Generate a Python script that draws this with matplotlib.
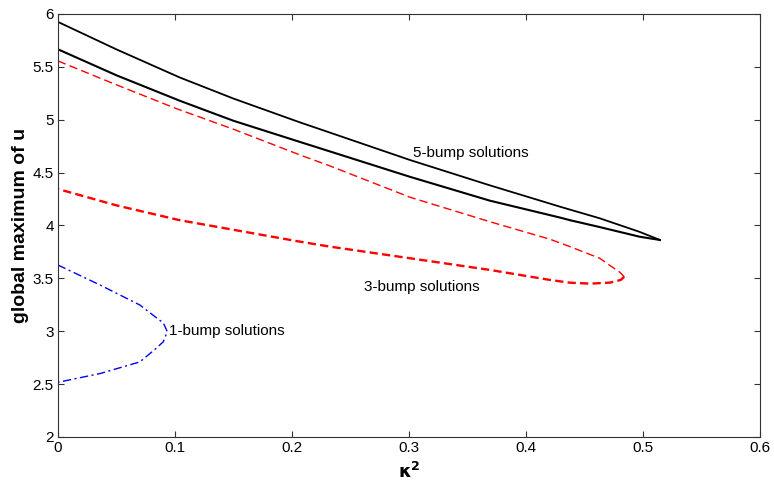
import matplotlib
matplotlib.use("Agg")
import matplotlib.pyplot as plt

plt.rcParams["font.family"] = ["Liberation Sans", "DejaVu Sans"]

# 5-bump branch, upper part then lower part back from the fold
k5_upper = [0.0, 0.05, 0.104, 0.15, 0.2068, 0.2325, 0.3009, 0.369, 0.429, 0.4376, 0.463, 0.497, 0.5145]
u5_upper = [5.925, 5.665, 5.40, 5.20, 4.975, 4.878, 4.619, 4.38, 4.178, 4.15, 4.068, 3.94, 3.863]
k5_lower = [0.5145, 0.497, 0.463, 0.4376, 0.429, 0.369, 0.3009, 0.2325, 0.2068, 0.15, 0.104, 0.05, 0.0]
u5_lower = [3.863, 3.894, 3.985, 4.05, 4.075, 4.235, 4.46, 4.70, 4.79, 4.99, 5.18, 5.42, 5.666]

# 3-bump branch
k3_upper = [0.0, 0.05, 0.1, 0.15, 0.2068, 0.2325, 0.3009, 0.369, 0.4205, 0.4376, 0.463, 0.472, 0.48, 0.484]
u3_upper = [5.556, 5.33, 5.11, 4.91, 4.667, 4.563, 4.267, 4.036, 3.87, 3.80, 3.69, 3.62, 3.56, 3.515]
k3_lower = [0.484, 0.481, 0.472, 0.455, 0.4376, 0.4205, 0.369, 0.3009, 0.2325, 0.2068, 0.104, 0.05, 0.0]
u3_lower = [3.515, 3.485, 3.46, 3.45, 3.459, 3.485, 3.58, 3.69, 3.80, 3.847, 4.05, 4.19, 4.345]

# 1-bump branch
k1 = [0.0, 0.036, 0.07, 0.085, 0.09, 0.0934, 0.09, 0.082, 0.07, 0.036, 0.0]
u1 = [3.626, 3.437, 3.248, 3.12, 3.08, 2.996, 2.90, 2.82, 2.71, 2.60, 2.517]

fig = plt.figure(figsize=(7.74, 4.82), dpi=100)
ax = fig.add_axes([0.0749, 0.0934, 0.9070, 0.8776])

ax.plot(k5_upper, u5_upper, color="black", lw=1.3)
ax.plot(k5_lower, u5_lower, color="black", lw=1.5)
ax.plot(k3_upper, u3_upper, color="#ff0000", lw=1.0, dashes=(6, 3))
ax.plot(k3_lower, u3_lower, color="#ff0000", lw=1.7, dashes=(3.5, 1.8))
ax.plot(k1, u1, color="#0000ff", lw=1.0, dashes=(6, 2.5, 1.5, 2.5))

ax.text(0.3034, 4.686, "5-bump solutions", fontsize=11, va="center", ha="left")
ax.text(0.2615, 3.418, "3-bump solutions", fontsize=11, va="center", ha="left")
ax.text(0.0949, 3.0, "1-bump solutions", fontsize=11, va="center", ha="left")

ax.set_xlim(0, 0.6)
ax.set_ylim(2, 6)
ax.set_xticks([0, 0.1, 0.2, 0.3, 0.4, 0.5, 0.6])
ax.set_xticklabels(["0", "0.1", "0.2", "0.3", "0.4", "0.5", "0.6"])
ax.set_yticks([2, 2.5, 3, 3.5, 4, 4.5, 5, 5.5, 6])
ax.set_yticklabels(["2", "2.5", "3", "3.5", "4", "4.5", "5", "5.5", "6"])
ax.tick_params(direction="in", length=4.5, width=0.8, colors="#333333",
               labelcolor="black", labelsize=11, top=True, right=True, pad=3)
for sp in ax.spines.values():
    sp.set_color("#333333")
    sp.set_linewidth(0.8)

ax.set_xlabel(r"$\mathbf{\kappa^2}$", fontsize=13, labelpad=5)
ax.set_ylabel("global maximum of u", fontsize=14, fontweight="bold", labelpad=3)

fig.savefig("out.png", dpi=100)
